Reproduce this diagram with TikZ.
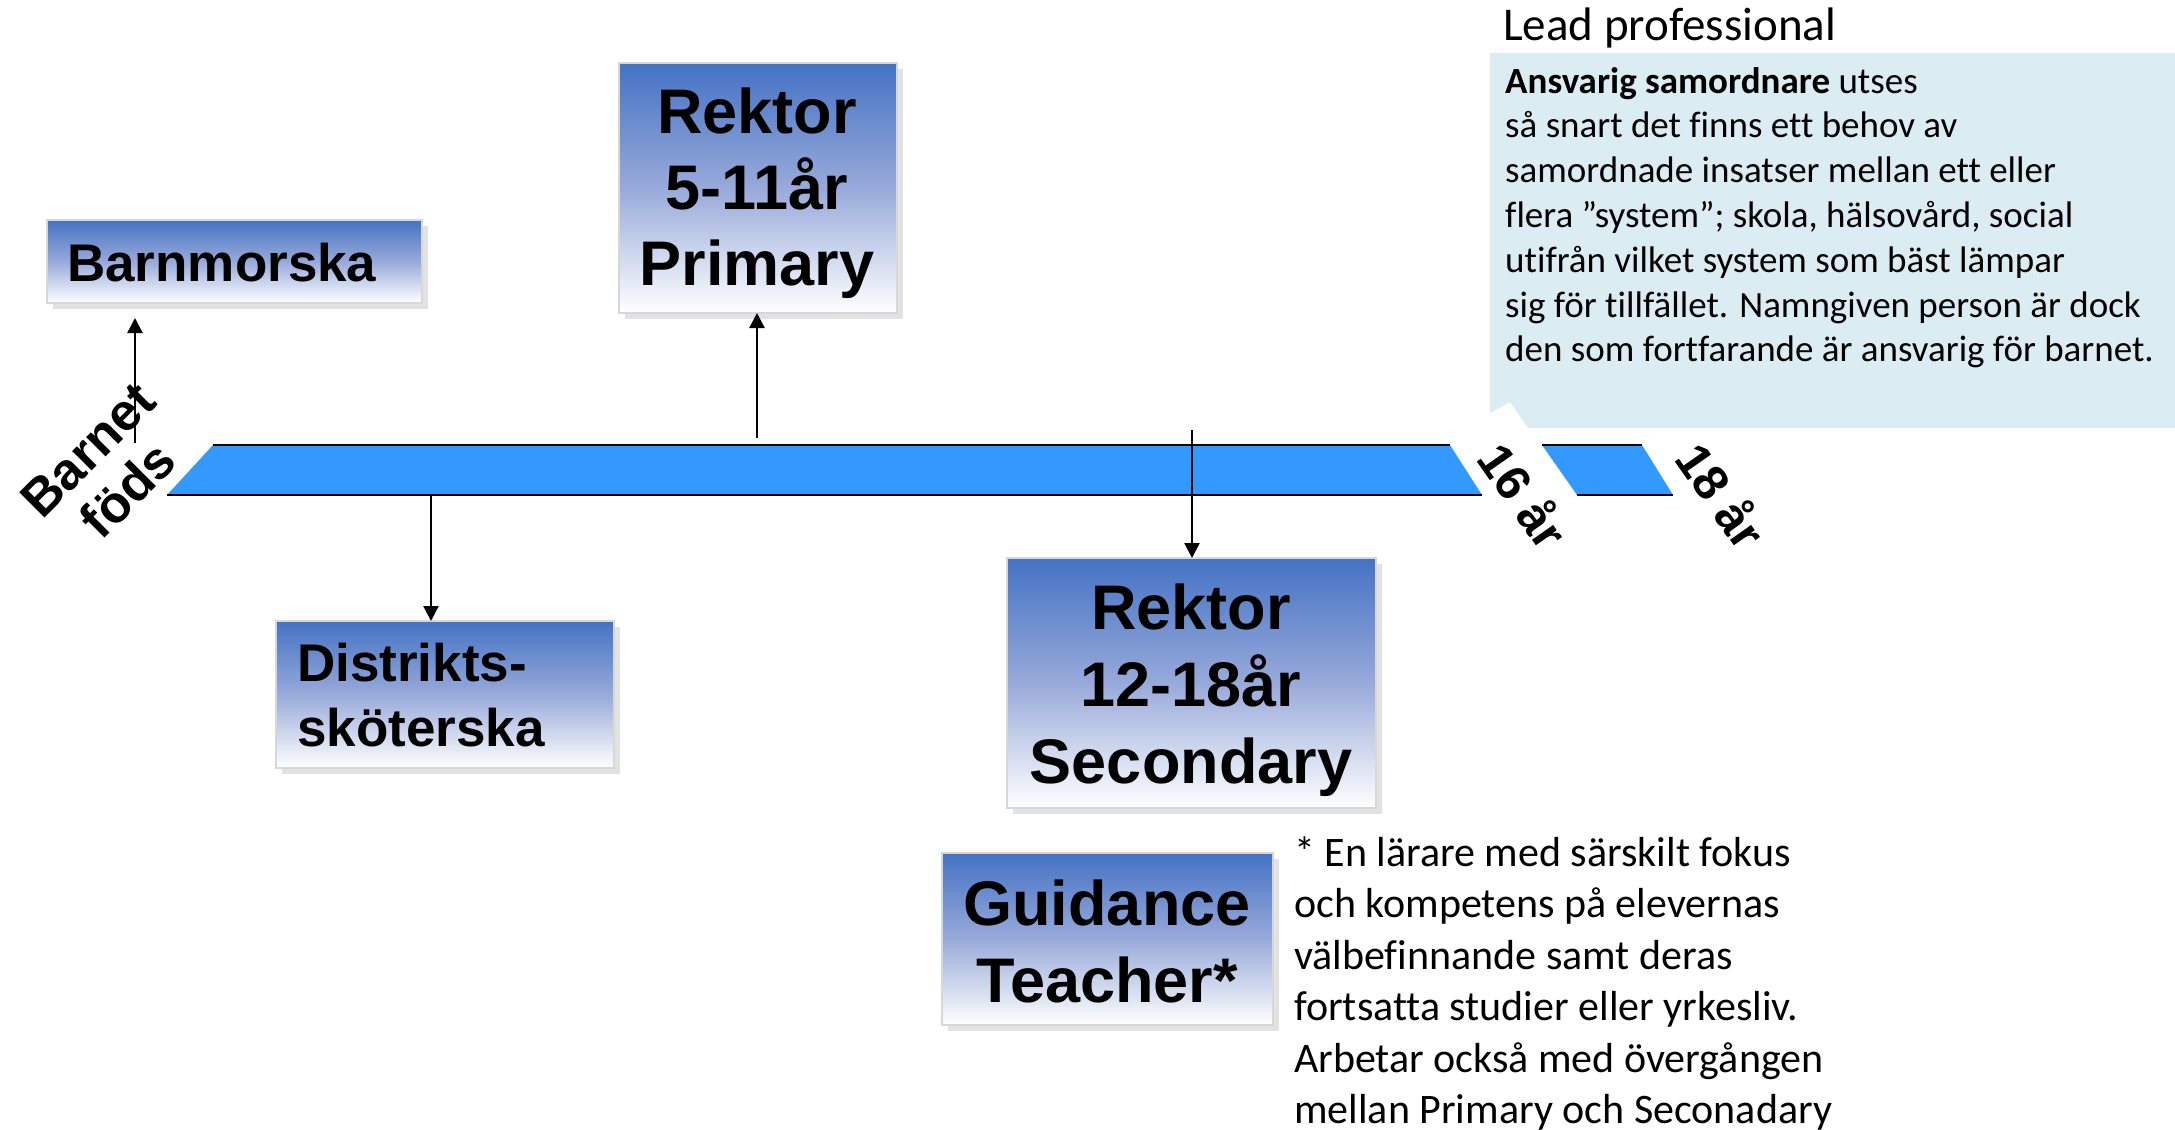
\documentclass[tikz,border=0pt]{standalone}
\usepackage{fontspec}
\setmainfont{Carlito}[Ligatures={NoCommon,TeX}]
\newfontfamily\arialf{Liberation Sans}
\usetikzlibrary{arrows.meta,shadows}
\definecolor{gradtop}{HTML}{4472C4}
\definecolor{gradmid}{RGB}{152,170,218}
\definecolor{boxline}{RGB}{215,215,215}
\definecolor{shadowc}{RGB}{226,226,226}
\definecolor{barc}{HTML}{3399FF}
\definecolor{callc}{HTML}{DBEDF3}
\begin{document}
\begin{tikzpicture}[x=1pt,y=-1pt,
  box/.style={draw=boxline, line width=1.5pt, top color=gradtop, bottom color=white, middle color=gradmid,
    drop shadow={shadow xshift=6pt, shadow yshift=-6pt, fill=shadowc, opacity=1},
    inner sep=0pt, outer sep=0pt, anchor=north west},
  big/.style={inner sep=0pt, align=center, font=\arialf\bfseries\fontsize{63}{77}\selectfont},
  mid/.style={inner sep=0pt, align=left, font=\arialf\bfseries\fontsize{53}{65}\selectfont},
  arr/.style={line width=2.3pt, -{Triangle[length=15pt,width=15pt]}},
  barline/.style={line width=2pt}
]
\useasboundingbox (0,0) rectangle (2175,1129);

% callout
\fill[callc] (1490,53) -- (2175,53) -- (2175,428) -- (1528,428) -- (1510,402) -- (1490,413) -- cycle;
\node[anchor=base west, inner sep=0pt, font=\fontsize{47}{56}\selectfont] (lead) at (1503,41) {Lead professional};
\node[anchor=north west, inner sep=0pt, align=left, font=\fontsize{37}{44.8}\selectfont] (lpbody) at (1505,67)
 {\textbf{Ansvarig samordnare} utses\\
  så snart det finns ett behov av\\
  samordnade insatser mellan ett eller\\
  flera ”system”; skola, hälsovård, social\\
  utifrån vilket system som bäst lämpar\\
  sig för tillfället. Namngiven person är dock\\
  den som fortfarande är ansvarig för barnet.};

% time bar
\fill[barc] (167,495) -- (213,445) -- (1450,445) -- (1482,495) -- cycle;
\draw[barline] (213,445) -- (1450,445);
\draw[barline] (167,495) -- (1482,495);
\fill[barc] (1542,445) -- (1642,445) -- (1673,495) -- (1577,495) -- cycle;
\draw[barline] (1542,445) -- (1642,445);
\draw[barline] (1577,495) -- (1673,495);

\node[inner sep=0pt, align=center, rotate=45, font=\arialf\bfseries\fontsize{52}{57}\selectfont] (born) at (108,470) {Barnet\\föds};
\node[inner sep=0pt, rotate=-55, font=\arialf\bfseries\fontsize{49}{56}\selectfont] (y16) at (1525,495) {16 år};
\node[inner sep=0pt, rotate=-55, font=\arialf\bfseries\fontsize{49}{56}\selectfont] (y18) at (1723,495) {18 år};

% boxes
\node[box, minimum width=375pt, minimum height=83pt] (barn) at (47,220) {};
\node[mid, anchor=west] (barnt) at (67,263) {Barnmorska};

\node[box, minimum width=278pt, minimum height=250pt] (prim) at (619,63) {};
\node[big, font=\arialf\bfseries\fontsize{63}{76}\selectfont] (primt) at (757,193) {Rektor\\5-11år\\Primary};

\node[box, minimum width=338pt, minimum height=147pt] (dist) at (276,621) {};
\node[mid, anchor=west] (distt) at (297,695.5) {Distrikts-\\sköterska};

\node[box, minimum width=369pt, minimum height=250pt] (sec) at (1007,558) {};
\node[big] (sect) at (1191,690.5) {Rektor\\12-18år\\Secondary};

\node[box, minimum width=331pt, minimum height=172pt] (guid) at (942,853) {};
\node[big] (guidt) at (1107,941) {Guidance\\Teacher*};

\node[anchor=north west, inner sep=0pt, align=left, font=\fontsize{42}{51.5}\selectfont] (fn) at (1294,836)
 {* En lärare med särskilt fokus\\
  och kompetens på elevernas\\
  välbefinnande samt deras\\
  fortsatta studier eller yrkesliv.\\
  Arbetar också med övergången\\
  mellan Primary och Seconadary};

% connectors
\coordinate (pB) at (135,443);
\coordinate (tB) at (135,318);
\coordinate (pP) at (757,438);
\coordinate (pS) at (1192,430);
\coordinate (pD) at (431,495);
\draw[arr] (pB) -- (tB);
\draw[arr] (pP) -- (prim.south -| pP);
\draw[arr] (pS) -- (sec.north -| pS);
\draw[arr] (pD) -- (dist.north -| pD);
\end{tikzpicture}
\end{document}
